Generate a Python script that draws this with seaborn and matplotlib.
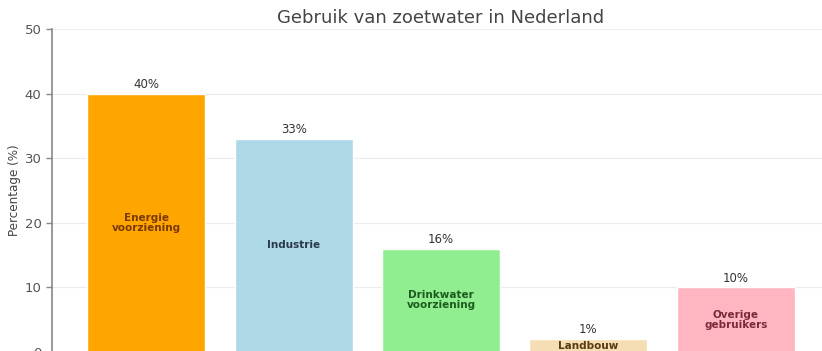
import matplotlib
matplotlib.use("Agg")
import matplotlib.pyplot as plt
import seaborn as sns
import pandas as pd

categories = ["Energie\nvoorziening", "Industrie", "Drinkwater\nvoorziening", "Landbouw", "Overige\ngebruikers"]
values = [40, 33, 16, 2, 10]
value_labels = ["40%", "33%", "16%", "1%", "10%"]
bar_colors = ["#FFA500", "#ADD8E6", "#90EE90", "#F5DEB3", "#FFB6C1"]
text_colors = ["#7A3A00", "#2B3A4A", "#1E5A1E", "#5A3A10", "#7A2A3A"]

sns.set_style("white")
df = pd.DataFrame({"cat": categories, "val": values})

fig = plt.figure(figsize=(8.22, 3.51), dpi=100)
ax = fig.add_axes([52 / 822, -1 / 351, (830 - 52) / 822, (352 - 29) / 351])
sns.barplot(data=df, x="cat", y="val", hue="cat", palette=bar_colors,
            legend=False, width=0.8, ax=ax, saturation=1)

ax.set_xlim(-0.64, 4.64)
ax.set_ylim(0, 50)
ax.set_yticks([0, 10, 20, 30, 40, 50])
ax.yaxis.grid(True, color="#ececec", linewidth=0.8)
ax.set_axisbelow(True)
for s in ["top", "right", "bottom"]:
    ax.spines[s].set_visible(False)
ax.spines["left"].set_color("#888888")
ax.spines["left"].set_linewidth(1.2)
ax.tick_params(axis="y", colors="#888888", labelcolor="#555555", labelsize=9.5,
               length=4, width=1, direction="out", left=True)
ax.tick_params(axis="x", bottom=False, labelbottom=False)
ax.set_xlabel("")
ax.set_ylabel("Percentage (%)", fontsize=9.5, color="#444444",
              family="DejaVu Sans", fontstretch="condensed", labelpad=3)
ax.set_title("Gebruik van zoetwater in Nederland", fontsize=13, color="#444444", pad=4)

for i, (v, lab) in enumerate(zip(values, value_labels)):
    ax.text(i, v + 0.4, lab, ha="center", va="bottom", fontsize=8.5, color="#333333")
    ax.text(i, v / 2, categories[i], ha="center", va="center", fontsize=7.5,
            color=text_colors[i], fontweight="bold", linespacing=1.0)

fig.savefig("out.png", dpi=100)
